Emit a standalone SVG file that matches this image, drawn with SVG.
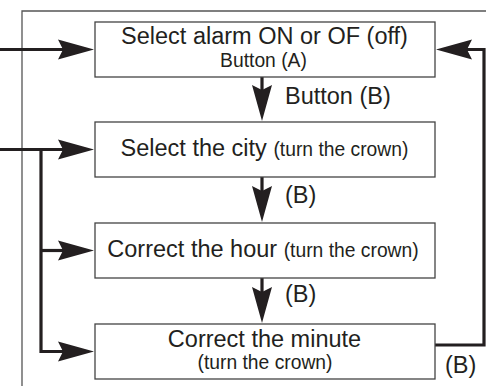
<svg xmlns="http://www.w3.org/2000/svg" width="486" height="386" viewBox="0 0 486 386">
<style>
.frame{fill:none;stroke:#555;stroke-width:1.3}
.box{fill:#fff;stroke:#444;stroke-width:1.3}
.conn{fill:none;stroke:#231f20;stroke-width:3.2;stroke-linejoin:miter}
text{font-family:"Liberation Sans",Arial,Helvetica,sans-serif;fill:#231f20}
.big{font-size:23.5px}
.small{font-size:19.3px}
</style>
<defs>
<marker id="ah" markerUnits="userSpaceOnUse" markerWidth="40" markerHeight="24" viewBox="0 -12 40 24" refX="5" refY="0" orient="auto">
<path d="M36,0 L0,-10 L5,0 L0,10 Z" fill="#231f20"/>
</marker>
</defs>
<path class="frame" d="M486,11 H22 V386"/>
<g id="connectors">
<path class="conn" d="M0,49.5 H63" marker-end="url(#ah)"/>
<path class="conn" d="M0,149.5 H63" marker-end="url(#ah)"/>
<path class="conn" d="M41,148 V351.5 H63" marker-end="url(#ah)"/>
<path class="conn" d="M41,250.5 H63" marker-end="url(#ah)"/>
<path class="conn" d="M262,77 V90" marker-end="url(#ah)"/>
<path class="conn" d="M262,177 V191" marker-end="url(#ah)"/>
<path class="conn" d="M262,278 V292" marker-end="url(#ah)"/>
<path class="conn" d="M435,345 H484 V49.5 H467" marker-end="url(#ah)"/>
<text class="big" x="285" y="104">Button (B)</text>
<text class="big" x="285" y="203">(B)</text>
<text class="big" x="285" y="302">(B)</text>
<text class="big" x="445" y="373">(B)</text>
</g>
<g id="n1">
<rect class="box" x="95" y="22" width="340" height="55"/>
<text class="big" x="264.5" y="43.5" text-anchor="middle">Select alarm ON or OF (off)</text>
<text class="small" x="263.5" y="66.5" text-anchor="middle">Button (A)</text>
</g>
<g id="n2">
<rect class="box" x="95" y="122" width="340" height="55"/>
<text class="big" x="264.5" y="156" text-anchor="middle">Select the city <tspan class="small">(turn the crown)</tspan></text>
</g>
<g id="n3">
<rect class="box" x="95" y="223" width="340" height="55"/>
<text class="big" x="263" y="257" text-anchor="middle">Correct the hour <tspan class="small">(turn the crown)</tspan></text>
</g>
<g id="n4">
<rect class="box" x="95" y="324" width="340" height="55"/>
<text class="big" x="264.5" y="346.5" text-anchor="middle">Correct the minute</text>
<text class="small" x="265" y="369" text-anchor="middle">(turn the crown)</text>
</g>
</svg>
